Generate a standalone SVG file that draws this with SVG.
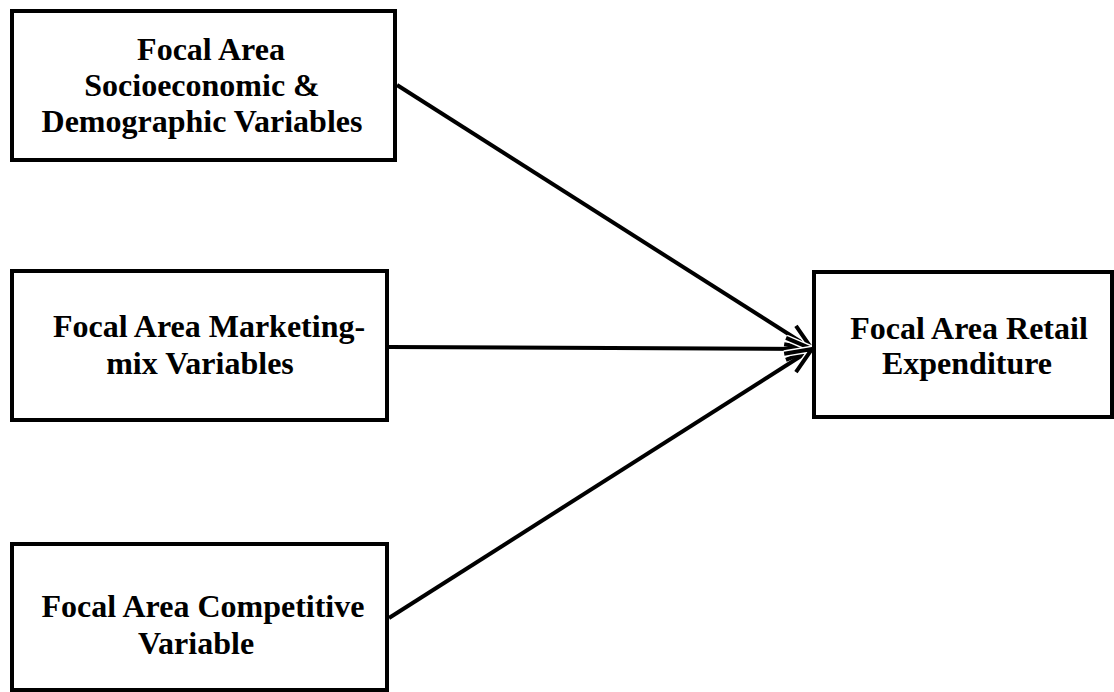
<svg xmlns="http://www.w3.org/2000/svg" width="1114" height="692" viewBox="0 0 1114 692">
<style>
.box{fill:#fff;stroke:#000;stroke-width:4}
.t{font-family:"Liberation Serif","Times New Roman",serif;font-weight:bold;font-size:32px;text-anchor:middle;fill:#000}
.c{stroke:#000;stroke-width:4;fill:none}
</style>
<defs>
<marker id="ah" markerUnits="userSpaceOnUse" markerWidth="40" markerHeight="40" refX="30" refY="15" orient="auto" overflow="visible">
<polyline points="4,4 30,15 4,26" fill="none" stroke="#fff" stroke-width="7" stroke-linejoin="miter"/>
<polyline points="4,4 30,15 4,26" fill="none" stroke="#000" stroke-width="4" stroke-linejoin="miter"/>
</marker>
</defs>
<rect width="1114" height="692" fill="#fff"/>
<g id="connectors">
<line class="c" x1="397" y1="85" x2="812" y2="349" marker-end="url(#ah)"/>
<line class="c" x1="389" y1="347" x2="812" y2="349" marker-end="url(#ah)"/>
<line class="c" x1="389" y1="618" x2="812" y2="349" marker-end="url(#ah)"/>
</g>
<g id="n1">
<rect class="box" x="12" y="11" width="383" height="149"/>
<text class="t" x="211" y="60">Focal Area</text>
<text class="t" x="202" y="96">Socioeconomic &amp;</text>
<text class="t" x="202" y="132">Demographic Variables</text>
</g>
<g id="n2">
<rect class="box" x="12" y="271" width="375" height="149"/>
<text class="t" x="209" y="337">Focal Area Marketing-</text>
<text class="t" x="200" y="374">mix Variables</text>
</g>
<g id="n3">
<rect class="box" x="12" y="544" width="375" height="146"/>
<text class="t" x="203" y="617">Focal Area Competitive</text>
<text class="t" x="196" y="654">Variable</text>
</g>
<g id="n4">
<rect class="box" x="814" y="272" width="298" height="145"/>
<text class="t" x="969" y="339">Focal Area Retail</text>
<text class="t" x="967" y="374">Expenditure</text>
</g>
</svg>
